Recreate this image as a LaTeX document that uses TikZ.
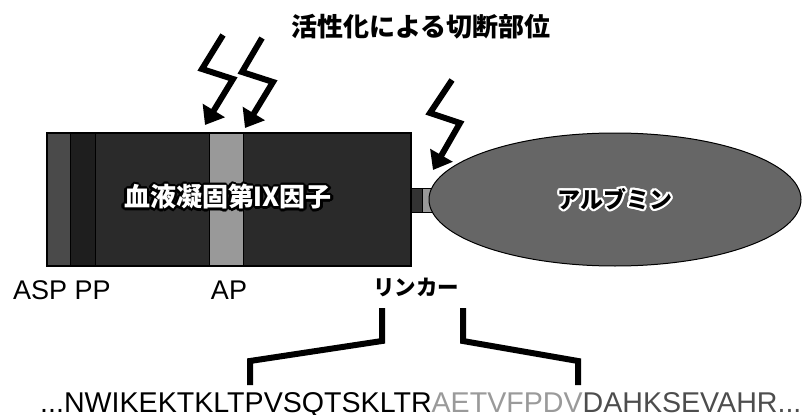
\documentclass[tikz,border=0pt]{standalone}
\usepackage{fontspec}
\setmainfont{Liberation Sans}
\newfontfamily\jp{Noto Sans CJK JP}
\usetikzlibrary{arrows.meta,shapes.geometric}
\definecolor{bodyc}{HTML}{2A2A2A}
\definecolor{aspc}{HTML}{4A4A4A}
\definecolor{ppc}{HTML}{1E1E1E}
\definecolor{apc}{HTML}{999999}
\definecolor{albc}{HTML}{666666}
\definecolor{linkc}{HTML}{333333}
\definecolor{seqgray}{HTML}{9A9A9A}
\definecolor{seqdark}{HTML}{4D4D4D}
\tikzset{
  band/.style={draw=black, line width=1pt},
  bolt/.style={line width=6pt, line join=miter, -{Triangle[length=17pt,width=25pt]}},
  brk/.style={line width=6pt, line join=miter},
  lbl/.style={inner sep=0pt, font=\fontsize{27}{29}\selectfont},
  jplbl/.style={inner sep=0pt, font=\jp\bfseries\fontsize{21.5}{23}\selectfont},
  fixtxt/.style={inner sep=0pt, font=\jp\bfseries\fontsize{26}{28}\selectfont},
  albtxt/.style={inner sep=0pt, font=\jp\bfseries\fontsize{23}{25}\selectfont},
}
\begin{document}
\begin{tikzpicture}[x=1pt,y=-1pt]
\useasboundingbox[fill=white] (0,0) rectangle (807,415);
% main body
\filldraw[band, fill=bodyc] (47,133) rectangle (411,266);
\filldraw[band, fill=aspc] (47,133) rectangle (70,266);
\filldraw[band, fill=ppc] (70,133) rectangle (95,266);
\filldraw[band, fill=apc] (209,133) rectangle (243,266);
\draw[line width=1.5pt] (47,133) rectangle (411,266);
% linker
\filldraw[band, fill=linkc] (411,188) rectangle (422,212);
\filldraw[band, fill=apc] (422,188) rectangle (434,212);
% albumin
\node[draw=black, line width=1pt, fill=albc, ellipse, minimum width=372pt, minimum height=133pt, inner sep=0pt] (alb) at (615,199.5) {};
% labels in shapes
\coordinate (fixc) at (228,197);
\foreach \a in {0,22.5,...,337.5}
  \node[fixtxt, text=black] at ([shift={(\a:2.2pt)}]fixc) {血液凝固第Ⅸ因子};
\node[fixtxt, text=white] (fix) at (fixc) {血液凝固第Ⅸ因子};
\coordinate (albt) at (615,199);
\foreach \a in {0,22.5,...,337.5}
  \node[albtxt, text=white] at ([shift={(\a:2pt)}]albt) {アルブミン};
\node[albtxt, text=black] (albname) at (albt) {アルブミン};
% title
\node[inner sep=0pt, font=\jp\bfseries\fontsize{26}{28}\selectfont] (title) at (421,27) {活性化による切断部位};
% lightning bolts
\coordinate (b1a) at (223,35); \coordinate (b1b) at (202,69); \coordinate (b1c) at (233,79); \coordinate (b1d) at (205,125);
\coordinate (b2a) at (262,38); \coordinate (b2b) at (242,72); \coordinate (b2c) at (273,82); \coordinate (b2d) at (245,128);
\coordinate (b3a) at (452,80); \coordinate (b3b) at (430,113); \coordinate (b3c) at (460,123); \coordinate (b3d) at (433,170);
\draw[bolt] (b1a) -- (b1b) -- (b1c) -- (b1d);
\draw[bolt] (b2a) -- (b2b) -- (b2c) -- (b2d);
\draw[bolt] (b3a) -- (b3b) -- (b3c) -- (b3d);
% region labels
\node[lbl, anchor=base west] (asp) at (13,299) {ASP PP};
\node[lbl, anchor=base] (ap) at (229,299) {AP};
\node[jplbl] (linker) at (416,287) {リンカー};
% brackets
\coordinate (l1) at (382,308); \coordinate (l2) at (382,341); \coordinate (l3) at (250,361); \coordinate (l4) at (250,385);
\coordinate (r1) at (463,308); \coordinate (r2) at (463,341); \coordinate (r3) at (578,361); \coordinate (r4) at (578,385);
\draw[brk] (l1) -- (l2) -- (l3) -- (l4);
\draw[brk] (r1) -- (r2) -- (r3) -- (r4);
% sequence
\node[inner sep=0pt, anchor=base west, font=\fontsize{28.6}{30}\selectfont] (seq) at (40,412)
  {...NWIKEKTKLTPVSQTSKLTR\textcolor{seqgray}{AETVFPDV}\textcolor{seqdark}{DAHKSEVAHR...}};
\end{tikzpicture}
\end{document}
